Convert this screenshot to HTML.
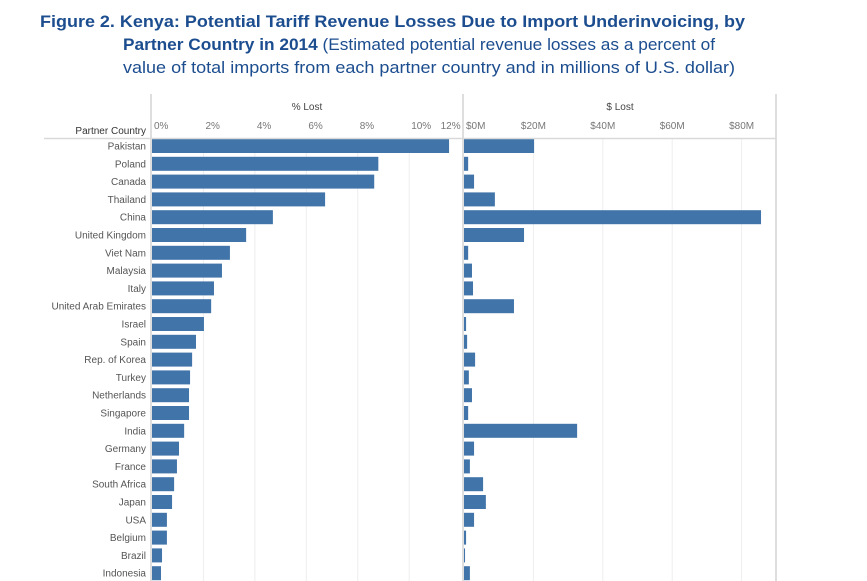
<!DOCTYPE html>
<html><head><meta charset="utf-8"><style>
body{margin:0;background:#fff;}
svg{display:block;font-family:"Liberation Sans",Arial,sans-serif;}
</style></head><body>
<svg id="chart" width="867" height="581" viewBox="0 0 867 581" xmlns="http://www.w3.org/2000/svg">
<g fill="#1c4d8f" font-size="17">
<text x="40" y="27" font-weight="bold" textLength="705" lengthAdjust="spacingAndGlyphs">Figure 2. Kenya: Potential Tariff Revenue Losses Due to Import Underinvoicing, by</text>
<text x="123" y="50" textLength="592" lengthAdjust="spacingAndGlyphs"><tspan font-weight="bold">Partner Country in 2014</tspan> (Estimated potential revenue losses as a percent of</text>
<text x="123" y="73" textLength="612" lengthAdjust="spacingAndGlyphs">value of total imports from each partner country and in millions of U.S. dollar)</text>
</g>
<g id="grid"></g>
<g id="bars"></g>
<g id="axes"></g>
</svg>
<script>
const countries=["Pakistan","Poland","Canada","Thailand","China","United Kingdom","Viet Nam","Malaysia","Italy","United Arab Emirates","Israel","Spain","Rep. of Korea","Turkey","Netherlands","Singapore","India","Germany","France","South Africa","Japan","USA","Belgium","Brazil","Indonesia"];
const pctLost=[11.55,8.8,8.64,6.73,4.7,3.66,3.03,2.72,2.41,2.3,2.02,1.71,1.56,1.48,1.44,1.44,1.25,1.05,0.97,0.86,0.78,0.58,0.58,0.39,0.35];
const dollarLost=[20.2,1.2,2.9,8.9,85.6,17.3,1.2,2.3,2.6,14.4,0.6,0.9,3.2,1.4,2.3,1.2,32.6,2.9,1.7,5.5,6.3,2.9,0.6,0.3,1.7];
const pctTicks=[0,2,4,6,8,10,12];
const pctTickLabels=["0%","2%","4%","6%","8%","10%","12%"];
const dolTicks=[0,20,40,60,80];
const dolTickLabels=["$0M","$20M","$40M","$60M","$80M"];

const NS="http://www.w3.org/2000/svg";
const xP=v=>152+v*25.72;
const xD=v=>464+v*3.47;
const yRow=i=>146+i*17.8;
const BH=14;
function mk(tag,attrs,parent,txt){const e=document.createElementNS(NS,tag);for(const k in attrs)e.setAttribute(k,attrs[k]);if(txt!==undefined)e.textContent=txt;parent.appendChild(e);return e;}
const grid=document.getElementById('grid'),bars=document.getElementById('bars'),axes=document.getElementById('axes');

pctTicks.forEach((t,i)=>{
 if(i>0&&i<pctTicks.length-1){const l=mk('line',{x1:xP(t),x2:xP(t),y1:139,y2:581,stroke:'#eeeeee'},grid);
 
 }
 const tx=mk('text',{x:i==pctTicks.length-1?xP(t)-10:xP(t)+2,y:129,'font-size':10,fill:'#777','text-anchor':i==pctTicks.length-1?'middle':'start'},axes,pctTickLabels[i]);
 
 
});
dolTicks.forEach((t,i)=>{
 if(i>0){const l=mk('line',{x1:xD(t),x2:xD(t),y1:139,y2:581,stroke:'#eeeeee'},grid);
 
 }
 const tx=mk('text',{x:i==0?xD(t)+2:xD(t),y:129,'font-size':10,fill:'#777','text-anchor':i==0?'start':'middle'},axes,dolTickLabels[i]);
 
 
});
[[151,94,581],[463,94,581],[776,94,581]].forEach(a=>{const l=mk('line',{x1:a[0],x2:a[0],y1:a[1],y2:a[2],stroke:'#d4d4d4','stroke-width':1.5},axes);
 
 });
const hl=mk('line',{x1:44,x2:776,y1:138.5,y2:138.5,stroke:'#d9d9d9','stroke-width':1.5},axes);


const t1=mk('text',{x:307,y:110,'font-size':10,fill:'#444','text-anchor':'middle'},axes,'% Lost');


const t2=mk('text',{x:620,y:110,'font-size':10,fill:'#444','text-anchor':'middle'},axes,'$ Lost');


const t3=mk('text',{x:146,y:134,'font-size':10,fill:'#333','text-anchor':'end'},axes,'Partner Country');



countries.forEach((c,i)=>{
 const y=yRow(i);
 const lb=mk('text',{x:146,y:y+3.5,'font-size':10,fill:'#555','text-anchor':'end'},axes,c);
 
 
 const b1=mk('rect',{x:xP(0),y:y-BH/2,width:xP(pctLost[i])-xP(0),height:BH,fill:'#4174a9'},bars);
 
 
 const b2=mk('rect',{x:xD(0),y:y-BH/2,width:xD(dollarLost[i])-xD(0),height:BH,fill:'#4174a9'},bars);
 
 
});
</script>
</body></html>
